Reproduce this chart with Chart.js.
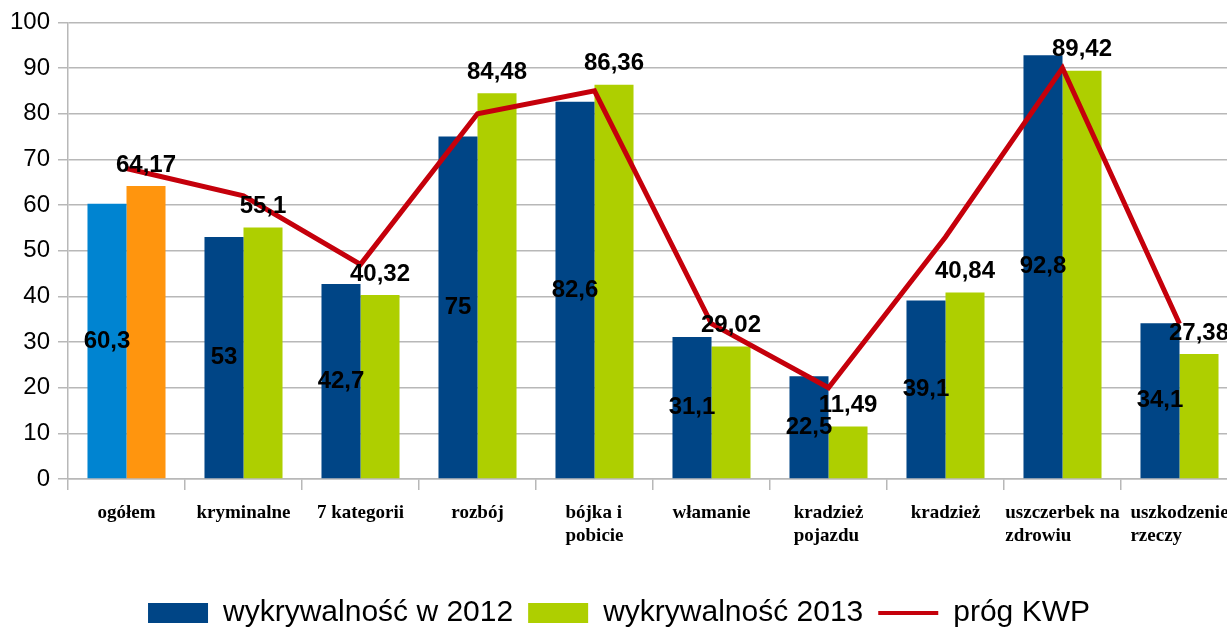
<!DOCTYPE html>
<html>
<head>
<meta charset="utf-8">
<script src="https://cdn.jsdelivr.net/npm/chart.js"></script>
<style>
    html, body { margin: 0; padding: 0; background: #fff; overflow: hidden; }
    #wrap { width: 1227px; height: 630px; overflow: hidden; }
    canvas { display: block; }
</style>
</head>
<body>
<div id="wrap"><canvas id="myChart" width="1240" height="638"></canvas></div>
<script>
// -----------------------------
// Daten
// -----------------------------
const categories = [
    "ogółem", "kryminalne", "7 kategorii", "rozbój", ["bójka i", "pobicie"],
    "włamanie", ["kradzież", "pojazdu"], "kradzież", ["uszczerbek na", "zdrowiu"], ["uszkodzenie", "rzeczy"]
];
const values2012 = [60.3, 53, 42.7, 75, 82.6, 31.1, 22.5, 39.1, 92.8, 34.1];
const values2013 = [64.17, 55.1, 40.32, 84.48, 86.36, 29.02, 11.49, 40.84, 89.42, 27.38];
const progKWP = [68, 62, 47, 80, 85, 34, 20, 53, 90, 34];
const seriesNames = ["wykrywalność w 2012", "wykrywalność 2013", "próg KWP"];
const yTickLabels = ["0", "10", "20", "30", "40", "50", "60", "70", "80", "90", "100"];

// -----------------------------
// Farben
// -----------------------------
const BLUE = "#004586";
const GREEN = "#aecf00";
const RED = "#c5000b";
const GRID = "#b8b8b8";

// first category ("ogółem") has its own colours
const colors2012 = categories.map((c, i) => i === 0 ? "#0084d1" : BLUE);
const colors2013 = categories.map((c, i) => i === 0 ? "#ff950e" : GREEN);

const fmt = (v) => String(v).replace(".", ",");

// -----------------------------
// Werte an den Balken
// -----------------------------
const valueLabels = {
    id: "valueLabels",
    afterDatasetsDraw: function (chart) {
        const ctx = chart.ctx;
        ctx.save();
        ctx.font = "bold 24px 'Liberation Sans', Arial, sans-serif";
        ctx.fillStyle = "#000";
        ctx.textAlign = "center";
        ctx.textBaseline = "middle";

        // 2012: in the middle of the bar
        chart.getDatasetMeta(0).data.forEach((bar, i) => {
            ctx.fillText(fmt(values2012[i]), bar.x, (bar.y + bar.base) / 2);
        });
        // 2013: above the bar
        chart.getDatasetMeta(1).data.forEach((bar, i) => {
            ctx.fillText(fmt(values2013[i]), bar.x, bar.y - 21);
        });
        ctx.restore();
    }
};

// -----------------------------
// Kategorien (mehrzeilig, linksbündig)
// -----------------------------
const categoryLabels = {
    id: "categoryLabels",
    afterDraw: function (chart) {
        const ctx = chart.ctx;
        const xScale = chart.scales.x;
        ctx.save();
        ctx.font = "bold 19px 'Liberation Serif', 'Times New Roman', serif";
        ctx.fillStyle = "#000";
        ctx.textAlign = "left";
        ctx.textBaseline = "alphabetic";
        categories.forEach((cat, i) => {
            const lines = Array.isArray(cat) ? cat : [cat];
            const w = Math.max(...lines.map((l) => ctx.measureText(l).width));
            const left = xScale.getPixelForTick(i) - w / 2;
            lines.forEach((l, j) => {
                ctx.fillText(l, left, xScale.top + 39 + j * 23);
            });
        });
        ctx.restore();
    }
};

new Chart(document.getElementById("myChart"), {
    type: "bar",
    data: {
        labels: categories,
        datasets: [{
            label: seriesNames[0],
            data: values2012,
            backgroundColor: colors2012,
            legendColor: BLUE,
            categoryPercentage: 0.667,
            barPercentage: 1.0,
            order: 1
        }, {
            label: seriesNames[1],
            data: values2013,
            backgroundColor: colors2013,
            legendColor: GREEN,
            categoryPercentage: 0.667,
            barPercentage: 1.0,
            order: 1
        }, {
            type: "line",
            label: seriesNames[2],
            data: progKWP,
            borderColor: RED,
            backgroundColor: RED,
            borderWidth: 5,
            borderJoinStyle: "miter",
            pointRadius: 0,
            tension: 0,
            order: 0
        }]
    },
    plugins: [valueLabels, categoryLabels],
    options: {
        responsive: false,
        animation: false,
        layout: {
            padding: { top: 22, right: 2, left: 0, bottom: 0 }
        },
        plugins: {
            tooltip: { enabled: false },
            legend: {
                position: "bottom",
                labels: {
                    usePointStyle: true,
                    pointStyleWidth: 60,
                    boxHeight: 20,
                    padding: 15,
                    color: "#000",
                    font: { family: "'Liberation Sans', Arial, sans-serif", size: 30 },
                    sort: (a, b) => a.datasetIndex - b.datasetIndex,
                    generateLabels: function (chart) {
                        const items = Chart.defaults.plugins.legend.labels.generateLabels(chart);
                        items.forEach(function (item) {
                            const ds = chart.data.datasets[item.datasetIndex];
                            if (ds.type === "line") {
                                item.pointStyle = "line";
                                item.strokeStyle = ds.borderColor;
                                item.lineWidth = 4;
                            } else {
                                item.pointStyle = "rect";
                                item.fillStyle = ds.legendColor;
                                item.lineWidth = 0;
                            }
                        });
                        return items;
                    }
                }
            }
        },
        scales: {
            x: {
                grid: {
                    drawOnChartArea: false,
                    tickLength: 11,
                    color: GRID,
                    lineWidth: 1.5
                },
                border: { color: GRID, width: 1.5 },
                ticks: { display: false, autoSkip: false },
                afterFit: function (scale) { scale.height = 104; }
            },
            y: {
                min: 0,
                max: 100,
                afterBuildTicks: function (scale) {
                    scale.ticks = yTickLabels.map((t) => ({ value: Number(t) }));
                },
                grid: { color: GRID, lineWidth: 1.5, tickLength: 10 },
                border: { color: GRID, width: 1.5 },
                ticks: {
                    color: "#000",
                    padding: 8,
                    font: { family: "'Liberation Sans', Arial, sans-serif", size: 24 }
                },
                afterFit: function (scale) { scale.width = 68; }
            }
        }
    }
});
</script>
</body>
</html>
